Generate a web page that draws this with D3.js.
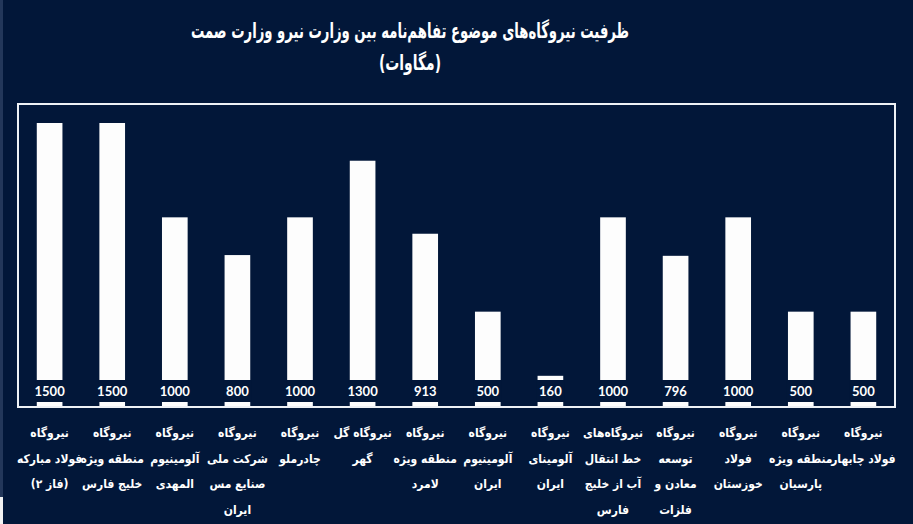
<!DOCTYPE html>
<html>
<head>
<meta charset="utf-8">
<script src="https://cdn.jsdelivr.net/npm/d3@7"></script>
<style>
  body { margin: 0; background: #021739; }
  svg { display: block; }
</style>
</head>
<body>
<svg id="chart" width="913" height="524"></svg>
<script>
// plant names (one entry per bar, broken into lines as on the picture)
const plants = [
  ['نیروگاه', 'فولاد مبارکه', '(فاز ۲)'],
  ['نیروگاه', 'منطقه ویژه', 'خلیج فارس'],
  ['نیروگاه', 'آلومینیوم', 'المهدی'],
  ['نیروگاه', 'شرکت ملی', 'صنایع مس', 'ایران'],
  ['نیروگاه', 'چادرملو'],
  ['نیروگاه گل', 'گهر'],
  ['نیروگاه', 'منطقه ویژه', 'لامرد'],
  ['نیروگاه', 'آلومینیوم', 'ایران'],
  ['نیروگاه', 'آلومینای', 'ایران'],
  ['نیروگاه‌های', 'خط انتقال', 'آب از خلیج', 'فارس'],
  ['نیروگاه', 'توسعه', 'معادن و', 'فلزات'],
  ['نیروگاه', 'فولاد', 'خوزستان'],
  ['نیروگاه', 'منطقه ویژه', 'پارسیان'],
  ['نیروگاه', 'فولاد چابهار']
];
// capacity in megawatts
const capacity = [1500, 1500, 1000, 800, 1000, 1300, 913, 500, 160, 1000, 796, 1000, 500, 500];

const titleLines = ['ظرفیت نیروگاه‌های موضوع تفاهم‌نامه  بین وزارت نیرو وزارت صمت', '(مگاوات)'];

const BG = '#021739';
const W = 913, H = 524;
const FRAME = {left: 18, top: 104, right: 895, bottom: 407};
const PERSIAN_FONT = '"DejaVu Sans Condensed", "DejaVu Sans", sans-serif';

const svg = d3.select('#chart');

// background
svg.append('rect').attr('width', W).attr('height', H).attr('fill', BG);
// thin light edge at the left of the image
svg.append('rect').attr('x', 0).attr('y', 0).attr('width', 3).attr('height', 497).attr('fill', '#23375a');
svg.append('rect').attr('x', 0).attr('y', 497).attr('width', 3).attr('height', H - 497).attr('fill', '#f2f2f2');

const idx = d3.range(capacity.length);

// scales
const x = d3.scaleBand()
  .domain(idx)
  .range([FRAME.left, FRAME.right])
  .paddingInner(0.59)
  .paddingOuter(0.3);

const y = d3.scaleLinear()
  .domain([0, 1500])
  .range([406, 123]);

// title, squeezed to the width it has on the picture
const titleWidth = [438, 62];
svg.append('g')
  .selectAll('text')
  .data(titleLines)
  .join('text')
  .attr('x', 410)
  .attr('y', (d, i) => 38 + i * 32)
  .attr('text-anchor', 'middle')
  .attr('direction', 'rtl')
  .attr('fill', '#ffffff')
  .attr('font-family', PERSIAN_FONT)
  .attr('font-weight', 'bold')
  .attr('font-size', 21)
  .attr('textLength', (d, i) => titleWidth[i])
  .attr('lengthAdjust', 'spacingAndGlyphs')
  .text(d => d);

// bars
svg.append('g')
  .selectAll('rect')
  .data(idx)
  .join('rect')
  .attr('x', i => x(i))
  .attr('y', i => y(capacity[i]))
  .attr('width', x.bandwidth())
  .attr('height', i => y(0) - y(capacity[i]))
  .attr('fill', '#fdfdfd');

// value labels sit on a dark box that cuts through the bar
const vals = svg.append('g');
vals.selectAll('rect')
  .data(idx)
  .join('rect')
  .attr('x', i => x(i) - 1)
  .attr('y', 380)
  .attr('width', x.bandwidth() + 2)
  .attr('height', 22)
  .attr('fill', BG);

vals.selectAll('text')
  .data(idx)
  .join('text')
  .attr('x', i => x(i) + x.bandwidth() / 2)
  .attr('y', 396)
  .attr('text-anchor', 'middle')
  .attr('fill', '#ffffff')
  .attr('font-family', 'Lato, sans-serif')
  .attr('font-weight', 'bold')
  .attr('font-size', 13)
  .text(i => capacity[i]);

// frame
svg.append('rect')
  .attr('x', FRAME.left)
  .attr('y', FRAME.top)
  .attr('width', FRAME.right - FRAME.left)
  .attr('height', FRAME.bottom - FRAME.top)
  .attr('fill', 'none')
  .attr('stroke', '#eef1f5')
  .attr('stroke-width', 2);

// category labels under the frame
const cats = svg.append('g')
  .selectAll('text')
  .data(idx)
  .join('text')
  .attr('text-anchor', 'middle')
  .attr('direction', 'rtl')
  .attr('fill', '#ffffff')
  .attr('font-family', PERSIAN_FONT)
  .attr('font-weight', 'bold')
  .attr('font-size', 12);

cats.selectAll('tspan')
  .data(i => plants[i].map(line => ({i, line})))
  .join('tspan')
  .attr('x', d => x(d.i) + x.bandwidth() / 2)
  .attr('y', (d, j) => 437 + j * 25.5)
  .text(d => d.line);
</script>
</body>
</html>
